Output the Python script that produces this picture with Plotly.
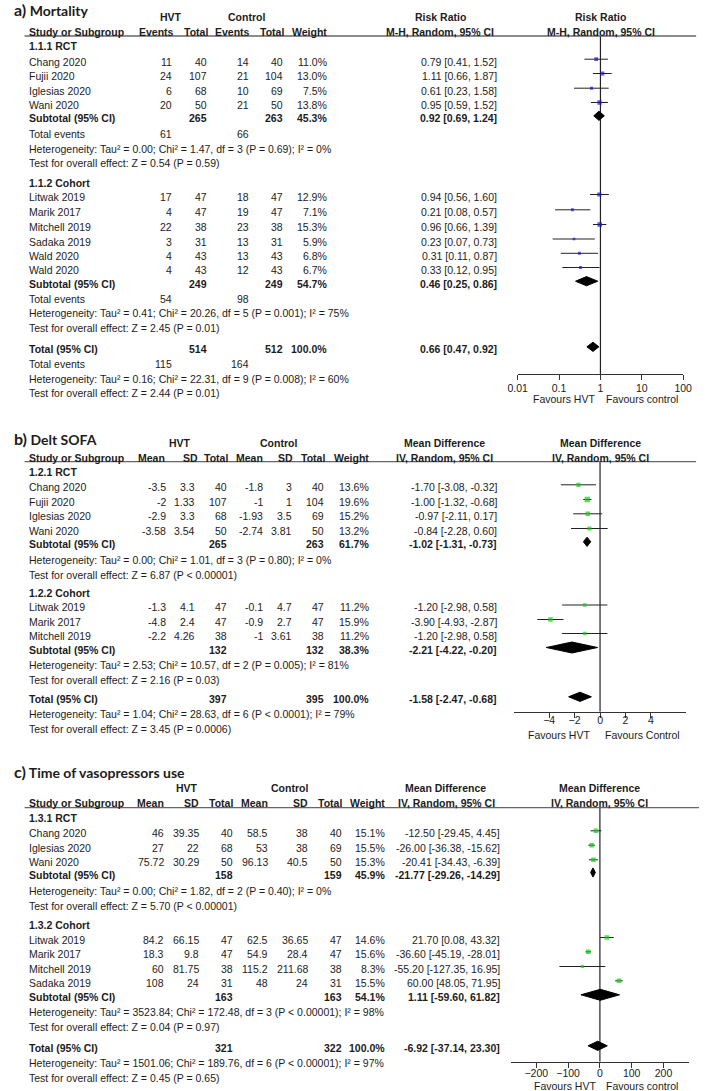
import plotly.graph_objects as go

W, H = 709, 1091
FONT = "Liberation Sans, Arial, sans-serif"
TFONT = "Lato, Calibri, sans-serif"
FS = 10.5
INK = "#1c1c1c"
BLUE = "#1414dc"
GREEN = "#16cc16"

# ================= a) Mortality =================
a_rct_study = ["Chang 2020", "Fujii 2020", "Iglesias 2020", "Wani 2020"]
a_rct_hvt_events = [11, 24, 6, 20]
a_rct_hvt_total = [40, 107, 68, 50]
a_rct_ctl_events = [14, 21, 10, 21]
a_rct_ctl_total = [40, 104, 69, 50]
a_rct_weight = [11.0, 13.0, 7.5, 13.8]
a_rct_rr = [0.79, 1.11, 0.61, 0.95]
a_rct_lo = [0.41, 0.66, 0.23, 0.59]
a_rct_hi = [1.52, 1.87, 1.58, 1.52]

a_coh_study = ["Litwak 2019", "Marik 2017", "Mitchell 2019", "Sadaka 2019", "Wald 2020", "Wald 2020"]
a_coh_hvt_events = [17, 4, 22, 3, 4, 4]
a_coh_hvt_total = [47, 47, 38, 31, 43, 43]
a_coh_ctl_events = [18, 19, 23, 13, 13, 12]
a_coh_ctl_total = [47, 47, 38, 31, 43, 43]
a_coh_weight = [12.9, 7.1, 15.3, 5.9, 6.8, 6.7]
a_coh_rr = [0.94, 0.21, 0.96, 0.23, 0.31, 0.33]
a_coh_lo = [0.56, 0.08, 0.66, 0.07, 0.11, 0.12]
a_coh_hi = [1.60, 0.57, 1.39, 0.73, 0.87, 0.95]

# pooled estimates: [estimate, lower, upper]
a_pool_rct = [0.92, 0.69, 1.24]
a_pool_coh = [0.46, 0.25, 0.86]
a_pool_all = [0.66, 0.47, 0.92]
# [HVT total, control total, weight, HVT events, control events]
a_sum_rct = [265, 263, 45.3, 61, 66]
a_sum_coh = [249, 249, 54.7, 54, 98]
a_sum_all = [514, 512, 100.0, 115, 164]
a_het = ["Heterogeneity: Tau² = 0.00; Chi² = 1.47, df = 3 (P = 0.69); I² = 0%",
         "Heterogeneity: Tau² = 0.41; Chi² = 20.26, df = 5 (P = 0.001); I² = 75%",
         "Heterogeneity: Tau² = 0.16; Chi² = 22.31, df = 9 (P = 0.008); I² = 60%"]
a_test = ["Test for overall effect: Z = 0.54 (P = 0.59)",
          "Test for overall effect: Z = 2.45 (P = 0.01)",
          "Test for overall effect: Z = 2.44 (P = 0.01)"]
a_ticks = [0.01, 0.1, 1, 10, 100]
a_tick_labels = ["0.01", "0.1", "1", "10", "100"]

# ================= b) Delt SOFA =================
b_rct_study = ["Chang 2020", "Fujii 2020", "Iglesias 2020", "Wani 2020"]
b_rct_hvt_mean = [-3.5, -2, -2.9, -3.58]
b_rct_hvt_sd = [3.3, 1.33, 3.3, 3.54]
b_rct_hvt_n = [40, 107, 68, 50]
b_rct_ctl_mean = [-1.8, -1, -1.93, -2.74]
b_rct_ctl_sd = [3, 1, 3.5, 3.81]
b_rct_ctl_n = [40, 104, 69, 50]
b_rct_weight = [13.6, 19.6, 15.2, 13.2]
b_rct_md = [-1.70, -1.00, -0.97, -0.84]
b_rct_lo = [-3.08, -1.32, -2.11, -2.28]
b_rct_hi = [-0.32, -0.68, 0.17, 0.60]

b_coh_study = ["Litwak 2019", "Marik 2017", "Mitchell 2019"]
b_coh_hvt_mean = [-1.3, -4.8, -2.2]
b_coh_hvt_sd = [4.1, 2.4, 4.26]
b_coh_hvt_n = [47, 47, 38]
b_coh_ctl_mean = [-0.1, -0.9, -1]
b_coh_ctl_sd = [4.7, 2.7, 3.61]
b_coh_ctl_n = [47, 47, 38]
b_coh_weight = [11.2, 15.9, 11.2]
b_coh_md = [-1.20, -3.90, -1.20]
b_coh_lo = [-2.98, -4.93, -2.98]
b_coh_hi = [0.58, -2.87, 0.58]

b_pool_rct = [-1.02, -1.31, -0.73]
b_pool_coh = [-2.21, -4.22, -0.20]
b_pool_all = [-1.58, -2.47, -0.68]
b_sum_rct = [265, 263, 61.7]
b_sum_coh = [132, 132, 38.3]
b_sum_all = [397, 395, 100.0]
b_het = ["Heterogeneity: Tau² = 0.00; Chi² = 1.01, df = 3 (P = 0.80); I² = 0%",
         "Heterogeneity: Tau² = 2.53; Chi² = 10.57, df = 2 (P = 0.005); I² = 81%",
         "Heterogeneity: Tau² = 1.04; Chi² = 28.63, df = 6 (P < 0.0001); I² = 79%"]
b_test = ["Test for overall effect: Z = 6.87 (P < 0.00001)",
          "Test for overall effect: Z = 2.16 (P = 0.03)",
          "Test for overall effect: Z = 3.45 (P = 0.0006)"]
b_ticks = [-4, -2, 0, 2, 4]

# ================= c) Time of vasopressors use =================
c_rct_study = ["Chang 2020", "Iglesias 2020", "Wani 2020"]
c_rct_hvt_mean = [46, 27, 75.72]
c_rct_hvt_sd = [39.35, 22, 30.29]
c_rct_hvt_n = [40, 68, 50]
c_rct_ctl_mean = [58.5, 53, 96.13]
c_rct_ctl_sd = [38, 38, 40.5]
c_rct_ctl_n = [40, 69, 50]
c_rct_weight = [15.1, 15.5, 15.3]
c_rct_md = [-12.50, -26.00, -20.41]
c_rct_lo = [-29.45, -36.38, -34.43]
c_rct_hi = [4.45, -15.62, -6.39]

c_coh_study = ["Litwak 2019", "Marik 2017", "Mitchell 2019", "Sadaka 2019"]
c_coh_hvt_mean = [84.2, 18.3, 60, 108]
c_coh_hvt_sd = [66.15, 9.8, 81.75, 24]
c_coh_hvt_n = [47, 47, 38, 31]
c_coh_ctl_mean = [62.5, 54.9, 115.2, 48]
c_coh_ctl_sd = [36.65, 28.4, 211.68, 24]
c_coh_ctl_n = [47, 47, 38, 31]
c_coh_weight = [14.6, 15.6, 8.3, 15.5]
c_coh_md = [21.70, -36.60, -55.20, 60.00]
c_coh_lo = [0.08, -45.19, -127.35, 48.05]
c_coh_hi = [43.32, -28.01, 16.95, 71.95]

c_pool_rct = [-21.77, -29.26, -14.29]
c_pool_coh = [1.11, -59.60, 61.82]
c_pool_all = [-6.92, -37.14, 23.30]
c_sum_rct = [158, 159, 45.9]
c_sum_coh = [163, 163, 54.1]
c_sum_all = [321, 322, 100.0]
c_het = ["Heterogeneity: Tau² = 0.00; Chi² = 1.82, df = 2 (P = 0.40); I² = 0%",
         "Heterogeneity: Tau² = 3523.84; Chi² = 172.48, df = 3 (P < 0.00001); I² = 98%",
         "Heterogeneity: Tau² = 1501.06; Chi² = 189.76, df = 6 (P < 0.00001); I² = 97%"]
c_test = ["Test for overall effect: Z = 5.70 (P < 0.00001)",
          "Test for overall effect: Z = 0.04 (P = 0.97)",
          "Test for overall effect: Z = 0.45 (P = 0.65)"]
c_ticks = [-200, -100, 0, 100, 200]

# ---------------- helpers ----------------
fig = go.Figure()
ann = []
shp = []


def T(x, y, s, anchor="left", bold=False, size=FS, family=FONT):
    ann.append(dict(x=x / W, y=1 - y / H, xref="paper", yref="paper",
                    text=f"<b>{s}</b>" if bold else s, showarrow=False,
                    xanchor=anchor, yanchor="middle", borderpad=0,
                    font=dict(family=family, size=size, color=INK)))


def hline(x0, x1, y):
    shp.append(dict(type="line", xref="paper", yref="paper", x0=x0 / W, x1=x1 / W,
                    y0=1 - y / H, y1=1 - y / H, line=dict(color="#666", width=1.3)))


def row(y, label, cols, bold=False):
    T(19, y, label, bold=bold)
    for x, s in cols:
        T(x, y, s, "right", bold)


def g(v):
    return f"{v:g}"


def eff(e, l, h):
    return f"{e:.2f} [{l:.2f}, {h:.2f}]"


def forest(ax, ys, est, lo, hi, w, color):
    xa, ya = ax
    xs, yy = [], []
    for y, l, h in zip(ys, lo, hi):
        xs += [l, h, None]
        yy += [y, y, None]
    fig.add_trace(go.Scatter(x=xs, y=yy, mode="lines", line=dict(color="#222", width=1),
                             xaxis=xa, yaxis=ya, hoverinfo="skip", showlegend=False))
    fig.add_trace(go.Scatter(x=est, y=ys, mode="markers",
                             marker=dict(symbol="square", color=color,
                                         size=[1.5 + 0.2 * v for v in w], line=dict(width=0)),
                             xaxis=xa, yaxis=ya, hoverinfo="skip", showlegend=False))


def diamond(ax, y, pool, hh=4.6):
    e, l, h = pool
    fig.add_trace(go.Scatter(x=[l, e, h, e, l], y=[y, y - hh, y, y + hh, y], mode="lines",
                             fill="toself", fillcolor="black", line=dict(color="black", width=1),
                             xaxis=ax[0], yaxis=ax[1], hoverinfo="skip", showlegend=False))


def nullline(ax, x0, ytop, ybot):
    fig.add_trace(go.Scatter(x=[x0, x0], y=[ytop, ybot], mode="lines",
                             line=dict(color="#222", width=1.2),
                             xaxis=ax[0], yaxis=ax[1], hoverinfo="skip", showlegend=False))


OFF = 2.5  # marker sits slightly above text centre line
TSIZE = 14


def title(y, letter, rest):
    T(3, y, f"<span style='font-size:16px'>{letter}</span> {rest}", bold=True, size=TSIZE, family=TFONT)


# ================= panel a layout =================
AX = ("x", "y")
title(9, "a)", "Mortality")
T(165, 16.7, "HVT", "center", True)
T(243, 16.7, "Control", "center", True)
T(442, 16.7, "Risk Ratio", "center", True)
T(607, 16.7, "Risk Ratio", "center", True)
row(32, "Study or Subgroup", [(170, "Events"), (204, "Total"), (248, "Events"), (283, "Total"), (327, "Weight")], True)
T(442, 32, "M-H, Random, 95% CI", "center", True)
T(607, 32, "M-H, Random, 95% CI", "center", True)
hline(15, 705, 36)

a_y_rct = [61.7, 76, 90.7, 105]
a_y_coh = [197, 212.3, 227, 241.5, 255.8, 270]
T(19, 46, "1.1.1 RCT", bold=True)
for i, s in enumerate(a_rct_study):
    row(a_y_rct[i], s, [(168, g(a_rct_hvt_events[i])), (203, g(a_rct_hvt_total[i])),
                        (247, g(a_rct_ctl_events[i])), (282, g(a_rct_ctl_total[i])),
                        (327, f"{a_rct_weight[i]:.1f}%"), (501, eff(a_rct_rr[i], a_rct_lo[i], a_rct_hi[i]))])
row(118.3, "Subtotal (95% CI)", [(203, g(a_sum_rct[0])), (282, g(a_sum_rct[1])),
                                  (327, f"{a_sum_rct[2]:.1f}%"), (501, eff(*a_pool_rct))], True)
row(134, "Total events", [(168, g(a_sum_rct[3])), (247, g(a_sum_rct[4]))])
T(19, 148.7, a_het[0])
T(19, 163.3, a_test[0])
T(19, 182.7, "1.1.2 Cohort", bold=True)
for i, s in enumerate(a_coh_study):
    row(a_y_coh[i], s, [(168, g(a_coh_hvt_events[i])), (203, g(a_coh_hvt_total[i])),
                        (247, g(a_coh_ctl_events[i])), (282, g(a_coh_ctl_total[i])),
                        (327, f"{a_coh_weight[i]:.1f}%"), (501, eff(a_coh_rr[i], a_coh_lo[i], a_coh_hi[i]))])
row(283.7, "Subtotal (95% CI)", [(203, g(a_sum_coh[0])), (282, g(a_sum_coh[1])),
                                  (327, f"{a_sum_coh[2]:.1f}%"), (501, eff(*a_pool_coh))], True)
row(299, "Total events", [(168, g(a_sum_coh[3])), (247, g(a_sum_coh[4]))])
T(19, 313.3, a_het[1])
T(19, 327.7, a_test[1])
row(349.3, "Total (95% CI)", [(203, g(a_sum_all[0])), (282, g(a_sum_all[1])),
                               (327, f"{a_sum_all[2]:.1f}%"), (501, eff(*a_pool_all))], True)
row(364, "Total events", [(168, g(a_sum_all[3])), (247, g(a_sum_all[4]))])
T(19, 378.7, a_het[2])
T(19, 392.7, a_test[2])
T(602, 399, "Favours HVT", "right")
T(611, 399, "Favours control", "left")

nullline(AX, 1, 36, 374)
forest(AX, [y - OFF for y in a_y_rct], a_rct_rr, a_rct_lo, a_rct_hi, a_rct_weight, BLUE)
forest(AX, [y - OFF for y in a_y_coh], a_coh_rr, a_coh_lo, a_coh_hi, a_coh_weight, BLUE)
diamond(AX, 118.3 - OFF, a_pool_rct)
diamond(AX, 283.7 - OFF, a_pool_coh)
diamond(AX, 349.3 - OFF, a_pool_all)

# ================= panel b layout =================
BX = ("x2", "y2")
title(438.3, "b)", "Delt SOFA")
T(175, 442.7, "HVT", "center", True)
T(275.7, 442.7, "Control", "center", True)
T(446.7, 442.7, "Mean Difference", "center", True)
T(607, 442.7, "Mean Difference", "center", True)
row(457.7, "Study or Subgroup", [(160, "Mean"), (194, "SD"), (225, "Total"), (261, "Mean"),
                                  (292, "SD"), (324.5, "Total"), (370, "Weight")], True)
T(446.7, 457.7, "IV, Random, 95% CI", "center", True)
T(607, 457.7, "IV, Random, 95% CI", "center", True)
hline(15, 705, 461.7)

b_cols = [161, 191, 224.5, 261, 291, 324, 369.5, 501]
b_y_rct = [487.3, 502, 516.3, 531]
b_y_coh = [607.5, 622, 636]
T(19, 472.3, "1.2.1 RCT", bold=True)
for i, s in enumerate(b_rct_study):
    vals = [g(b_rct_hvt_mean[i]), g(b_rct_hvt_sd[i]), g(b_rct_hvt_n[i]), g(b_rct_ctl_mean[i]),
            g(b_rct_ctl_sd[i]), g(b_rct_ctl_n[i]), f"{b_rct_weight[i]:.1f}%",
            eff(b_rct_md[i], b_rct_lo[i], b_rct_hi[i])]
    row(b_y_rct[i], s, list(zip(b_cols, vals)))
row(544.3, "Subtotal (95% CI)", [(b_cols[2], g(b_sum_rct[0])), (b_cols[5], g(b_sum_rct[1])),
                                  (b_cols[6], f"{b_sum_rct[2]:.1f}%"), (b_cols[7], eff(*b_pool_rct))], True)
T(19, 560.3, b_het[0])
T(19, 575, b_test[0])
T(19, 592.7, "1.2.2 Cohort", bold=True)
for i, s in enumerate(b_coh_study):
    vals = [g(b_coh_hvt_mean[i]), g(b_coh_hvt_sd[i]), g(b_coh_hvt_n[i]), g(b_coh_ctl_mean[i]),
            g(b_coh_ctl_sd[i]), g(b_coh_ctl_n[i]), f"{b_coh_weight[i]:.1f}%",
            eff(b_coh_md[i], b_coh_lo[i], b_coh_hi[i])]
    row(b_y_coh[i], s, list(zip(b_cols, vals)))
row(650, "Subtotal (95% CI)", [(b_cols[2], g(b_sum_coh[0])), (b_cols[5], g(b_sum_coh[1])),
                                (b_cols[6], f"{b_sum_coh[2]:.1f}%"), (b_cols[7], eff(*b_pool_coh))], True)
T(19, 665.3, b_het[1])
T(19, 680, b_test[1])
row(699.3, "Total (95% CI)", [(b_cols[2], g(b_sum_all[0])), (b_cols[5], g(b_sum_all[1])),
                               (b_cols[6], f"{b_sum_all[2]:.1f}%"), (b_cols[7], eff(*b_pool_all))], True)
T(19, 714, b_het[2])
T(19, 728.7, b_test[2])
T(597, 735, "Favours HVT", "right")
T(610, 735, "Favours Control", "left")

nullline(BX, 0, 461.7, 711.7)
forest(BX, [y - OFF for y in b_y_rct], b_rct_md, b_rct_lo, b_rct_hi, b_rct_weight, GREEN)
forest(BX, [y - OFF for y in b_y_coh], b_coh_md, b_coh_lo, b_coh_hi, b_coh_weight, GREEN)
diamond(BX, 544.3 - OFF, b_pool_rct)
diamond(BX, 650 - OFF, b_pool_coh, 5.5)
diamond(BX, 699.3 - OFF, b_pool_all)

# ================= panel c layout =================
CX = ("x3", "y3")
title(771, "c)", "Time of vasopressors use")
T(181.7, 788.3, "HVT", "center", True)
T(287.3, 788.3, "Control", "center", True)
T(448, 788.3, "Mean Difference", "center", True)
T(606, 788.3, "Mean Difference", "center", True)
row(803.3, "Study or Subgroup", [(159, "Mean"), (195, "SD"), (230, "Total"), (265.7, "Mean"),
                                  (307.3, "SD"), (341.7, "Total"), (386.7, "Weight")], True)
T(449, 803.3, "IV, Random, 95% CI", "center", True)
T(606, 803.3, "IV, Random, 95% CI", "center", True)
hline(15, 708, 807.7)

c_cols = [159, 195, 230, 265.7, 307.3, 341.7, 386.7, 505]
c_y_rct = [833.3, 847.7, 862.3]
c_y_coh = [940, 954.3, 969, 983.3]
T(19, 817.7, "1.3.1 RCT", bold=True)
for i, s in enumerate(c_rct_study):
    vals = [g(c_rct_hvt_mean[i]), g(c_rct_hvt_sd[i]), g(c_rct_hvt_n[i]), g(c_rct_ctl_mean[i]),
            g(c_rct_ctl_sd[i]), g(c_rct_ctl_n[i]), f"{c_rct_weight[i]:.1f}%",
            eff(c_rct_md[i], c_rct_lo[i], c_rct_hi[i])]
    row(c_y_rct[i], s, list(zip(c_cols, vals)))
row(875, "Subtotal (95% CI)", [(c_cols[2], g(c_sum_rct[0])), (c_cols[5], g(c_sum_rct[1])),
                                (c_cols[6], f"{c_sum_rct[2]:.1f}%"), (c_cols[7], eff(*c_pool_rct))], True)
T(19, 891, c_het[0])
T(19, 905.7, c_test[0])
T(19, 925, "1.3.2 Cohort", bold=True)
for i, s in enumerate(c_coh_study):
    vals = [g(c_coh_hvt_mean[i]), g(c_coh_hvt_sd[i]), g(c_coh_hvt_n[i]), g(c_coh_ctl_mean[i]),
            g(c_coh_ctl_sd[i]), g(c_coh_ctl_n[i]), f"{c_coh_weight[i]:.1f}%",
            eff(c_coh_md[i], c_coh_lo[i], c_coh_hi[i])]
    row(c_y_coh[i], s, list(zip(c_cols, vals)))
row(997.3, "Subtotal (95% CI)", [(c_cols[2], g(c_sum_coh[0])), (c_cols[5], g(c_sum_coh[1])),
                                  (c_cols[6], f"{c_sum_coh[2]:.1f}%"), (c_cols[7], eff(*c_pool_coh))], True)
T(19, 1012.3, c_het[1])
T(19, 1027, c_test[1])
row(1048.3, "Total (95% CI)", [(c_cols[2], g(c_sum_all[0])), (c_cols[5], g(c_sum_all[1])),
                                (c_cols[6], f"{c_sum_all[2]:.1f}%"), (c_cols[7], eff(*c_pool_all))], True)
T(19, 1063.3, c_het[2])
T(19, 1078.3, c_test[2])
T(603, 1085.7, "Favours HVT", "right")
T(611.5, 1085.7, "Favours control", "left")

nullline(CX, 0, 807.7, 1061.7)
forest(CX, [y - OFF for y in c_y_rct], c_rct_md, c_rct_lo, c_rct_hi, c_rct_weight, GREEN)
forest(CX, [y - OFF for y in c_y_coh], c_coh_md, c_coh_lo, c_coh_hi, c_coh_weight, GREEN)
diamond(CX, 875 - OFF, c_pool_rct)
diamond(CX, 997.3 - OFF, c_pool_coh, 5.5)
diamond(CX, 1048.3 - OFF, c_pool_all)

# ---------------- axes ----------------
xcommon = dict(showgrid=False, zeroline=False, showline=True, linecolor="#333", linewidth=1,
               ticks="outside", ticklen=5, tickcolor="#333", tickwidth=1,
               tickfont=dict(family=FONT, size=FS, color=INK), fixedrange=True)
ycommon = dict(visible=False, showgrid=False, zeroline=False, fixedrange=True)


def ydom(top, bot):
    return [1 - bot / H, 1 - top / H]


fig.update_layout(
    width=W, height=H, margin=dict(l=0, r=0, t=0, b=0),
    paper_bgcolor="white", plot_bgcolor="rgba(0,0,0,0)", showlegend=False,
    xaxis=dict(domain=[521.7 / W, 691.7 / W], type="log", range=[-2, 2], anchor="y",
               tickvals=a_ticks, ticktext=a_tick_labels, ticklabelstandoff=-1, **xcommon),
    yaxis=dict(domain=ydom(36, 374), range=[374, 36], anchor="x", **ycommon),
    xaxis2=dict(domain=[518.3 / W, 694.3 / W], range=[-6.73, 6.73], anchor="y2",
                tickvals=b_ticks, ticklabelstandoff=-6, **xcommon),
    yaxis2=dict(domain=ydom(461.7, 711.7), range=[711.7, 461.7], anchor="x2", **ycommon),
    xaxis3=dict(domain=[515 / W, 697.3 / W], range=[-279, 279], anchor="y3",
                tickvals=c_ticks, ticklabelstandoff=-3, **xcommon),
    yaxis3=dict(domain=ydom(807.7, 1061.7), range=[1061.7, 807.7], anchor="x3", **ycommon),
    annotations=ann, shapes=shp,
)

fig.write_html("out.html", config={"displayModeBar": False},
               post_script="document.body.style.margin='0';")
